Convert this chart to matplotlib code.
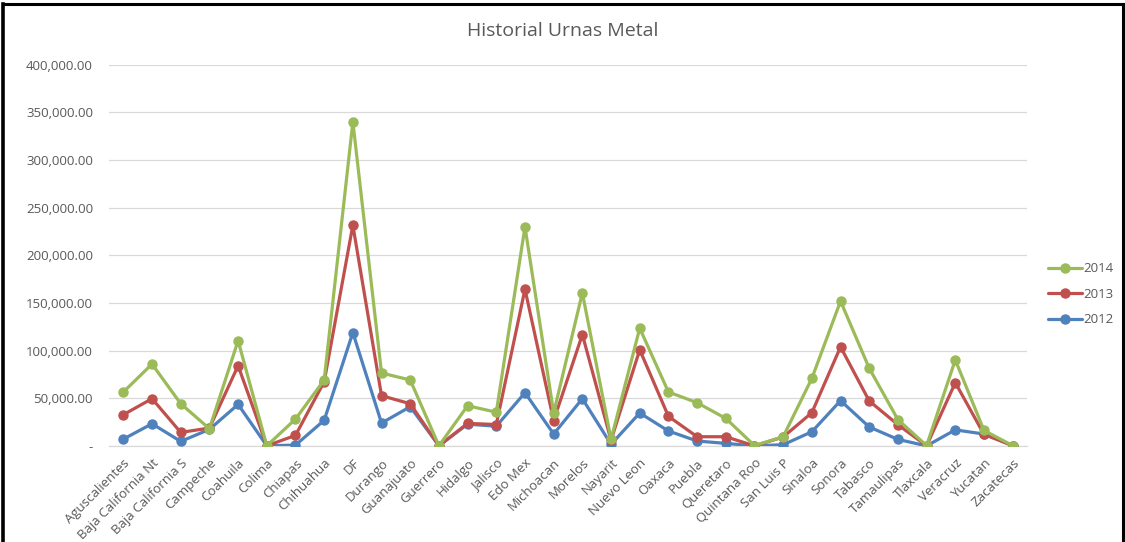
import matplotlib
matplotlib.use("Agg")
import matplotlib.pyplot as plt
from matplotlib.lines import Line2D
from matplotlib.ticker import FuncFormatter, MultipleLocator

plt.rcParams["font.family"] = ["Open Sans", "DejaVu Sans"]

states = [
    "Aguscalientes", "Baja California Nt", "Baja California S", "Campeche",
    "Coahuila", "Colima", "Chiapas", "Chihuahua", "DF", "Durango",
    "Guanajuato", "Guerrero", "Hidalgo", "Jalisco", "Edo Mex", "Michoacan",
    "Morelos", "Nayarit", "Nuevo Leon", "Oaxaca", "Puebla", "Queretaro",
    "Quintana Roo", "San Luis P", "Sinaloa", "Sonora", "Tabasco",
    "Tamaulipas", "Tlaxcala", "Veracruz", "Yucatan", "Zacatecas",
]

urnas_2012 = [7300, 23400, 4900, 17500, 43700, 300, 1000, 27000, 119000, 24100,
              41300, 300, 23000, 20800, 56000, 12600, 49700, 1800, 34700, 15800,
              5300, 2800, 200, 1400, 15000, 47600, 20000, 7000, 200, 17000,
              12600, 500]
urnas_2013 = [32900, 49700, 14300, 18900, 84300, 300, 11200, 67500, 231600, 52800,
              44400, 300, 23800, 22600, 164500, 26600, 117000, 6000, 101000, 31200,
              9800, 9800, 200, 9500, 35000, 104000, 47300, 22400, 300, 66500,
              12300, 500]
urnas_2014 = [56700, 86000, 44400, 18200, 110500, 300, 28300, 69300, 340000, 76600,
              69300, 300, 42300, 35500, 230000, 34700, 160700, 7000, 123600, 56700,
              45500, 29000, 500, 9800, 71000, 152000, 81600, 27700, 500, 90300,
              16400, 500]

series = [
    ("2012", urnas_2012, "#4F81BD"),
    ("2013", urnas_2013, "#C0504D"),
    ("2014", urnas_2014, "#9BBB59"),
]

text_grey = "#595959"
grid_grey = "#D9D9D9"

fig = plt.figure(figsize=(11.25, 5.42), dpi=100)
ax = fig.add_axes([0.0969, 0.177, 0.816, 0.7037])

x = range(len(states))
handles = {}
for name, vals, color in series:
    (ln,) = ax.plot(x, vals, color=color, lw=2.3, marker="o", ms=6.5,
                    solid_capstyle="round", label=name, zorder=3)
    handles[name] = ln

ax.set_xlim(-0.5, len(states) - 0.5)
ax.set_ylim(0, 400000)
ax.yaxis.set_major_locator(MultipleLocator(50000))


def acct(v, _pos):
    return "-" if v == 0 else f"{v:,.2f}"


ax.yaxis.set_major_formatter(FuncFormatter(acct))
ax.grid(axis="y", color=grid_grey, lw=0.9, zorder=0)
for side in ("top", "right", "left"):
    ax.spines[side].set_visible(False)
ax.spines["bottom"].set_color(grid_grey)
ax.spines["bottom"].set_linewidth(0.9)

ax.set_xticks(list(x))
ax.set_xticklabels(states, rotation=45, ha="right", rotation_mode="anchor",
                   fontsize=9.5, color=text_grey)
ax.tick_params(axis="x", length=0, pad=7.5)
ax.tick_params(axis="y", length=0, pad=11.5, labelsize=9.5, labelcolor=text_grey)

fig.text(0.5, 0.943, "Historial Urnas Metal", fontsize=14, color=text_grey,
         ha="center", va="center")

leg = fig.legend([handles["2014"], handles["2013"], handles["2012"]],
                 ["2014", "2013", "2012"], loc="center left",
                 bbox_to_anchor=(0.927, 0.457), frameon=False, fontsize=9.5,
                 handlelength=2.6, handletextpad=0.1, labelspacing=0.95,
                 borderaxespad=0)
for t in leg.get_texts():
    t.set_color(text_grey)

# black frame around the chart (open at the bottom)
for xs, ys, w in (([0.003, 0.003], [0.0, 0.993], 2.6),
                  ([0.003, 0.998], [0.993, 0.993], 2.2),
                  ([0.998, 0.998], [0.0, 0.993], 2.2)):
    fig.add_artist(Line2D(xs, ys, transform=fig.transFigure, color="black", lw=w))

fig.savefig("out.png", dpi=100)
